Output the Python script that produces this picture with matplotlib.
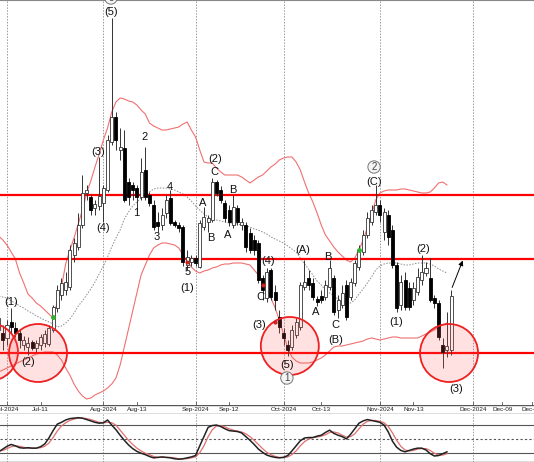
import numpy as np
import pandas as pd
import matplotlib
matplotlib.use("Agg")
import matplotlib.pyplot as plt
from matplotlib.patches import Ellipse

plt.rcParams['font.family'] = ['Liberation Sans', 'DejaVu Sans']

# ---------------- data ----------------
dates = pd.bdate_range('2024-06-27', periods=109)

opens = [170, 167, 162, 178, 172, 167, 155, 153, 158, 152, 155, 157, 156, 170, 192, 205, 210, 213, 245, 253,
         275, 307, 303, 292, 294, 297, 310, 358, 383, 350, 352, 318, 315, 312, 303, 330, 305, 295, 278, 275,
         287, 302, 278, 275, 273, 235, 238, 242, 233, 273, 278, 280, 318, 310, 297, 290, 275, 292, 275, 275,
         267, 260, 257, 222, 202, 230, 208, 183, 167, 155, 153, 165, 173, 213, 222, 217, 201, 204, 203, 213,
         222, 190, 195, 215, 203, 217, 233, 248, 265, 278, 288, 295, 268, 285, 270, 235, 195, 220, 212, 200,
         208, 220, 227, 222, 202, 197, 155, 150, 150]
highs = [188, 175, 180, 192, 178, 170, 164, 163, 160, 160, 166, 170, 175, 195, 215, 222, 228, 255, 262, 287,
         325, 315, 305, 300, 343, 315, 365, 482, 388, 372, 370, 322, 318, 315, 342, 353, 308, 300, 288, 292,
         305, 310, 280, 278, 275, 250, 245, 245, 280, 293, 285, 322, 320, 314, 300, 295, 305, 295, 282, 278,
         272, 265, 260, 225, 232, 232, 215, 190, 172, 160, 175, 182, 218, 240, 230, 222, 204, 210, 220, 240,
         225, 205, 215, 220, 222, 240, 255, 270, 288, 295, 315, 300, 292, 290, 275, 238, 225, 228, 218, 218,
         232, 245, 238, 242, 205, 200, 162, 188, 210]
lows = [160, 150, 155, 167, 163, 152, 150, 145, 150, 148, 150, 153, 154, 168, 188, 200, 205, 210, 238, 250,
        272, 300, 285, 285, 290, 278, 308, 355, 350, 340, 298, 295, 300, 290, 300, 300, 294, 270, 268, 270,
        282, 275, 273, 268, 234, 230, 234, 234, 232, 270, 268, 278, 304, 297, 278, 274, 272, 275, 270, 248,
        247, 245, 217, 200, 198, 200, 190, 167, 155, 144, 150, 162, 170, 210, 210, 200, 194, 197, 200, 210,
        185, 182, 192, 180, 200, 214, 230, 245, 262, 275, 285, 278, 260, 255, 232, 188, 190, 190, 190, 195,
        205, 215, 224, 198, 192, 160, 132, 143, 145]
closes = [182, 160, 175, 173, 167, 160, 160, 157, 152, 157, 163, 166, 172, 193, 210, 217, 218, 250, 257, 275,
          307, 310, 290, 296, 304, 312, 360, 383, 360, 353, 300, 303, 310, 303, 328, 303, 297, 273, 274, 285,
          300, 277, 275, 272, 238, 243, 242, 237, 277, 283, 282, 318, 307, 300, 282, 278, 293, 278, 278, 253,
          250, 250, 220, 210, 228, 203, 200, 173, 162, 150, 170, 178, 215, 218, 215, 203, 198, 200, 215, 232,
          188, 200, 207, 183, 218, 237, 250, 265, 282, 290, 295, 285, 288, 263, 235, 192, 218, 193, 193, 212,
          223, 228, 232, 200, 197, 163, 148, 154, 204]

nan = np.nan
bb_upper = [264, 260, 255, 248, 241, 227, 217, 206, 202, 197, 194, 190, 186, 182, 198, 213, 236, 250, 262, 276,
            290, 307, 319, 333, 346, 360, 372, 388, 398, 402, 401, 399, 398, 395, 390, 386, 377, 374, 372, 370,
            370, 371, 372, 373, 376, 378, 370, 363, 350, 338, 337, 337, 332, 328, 325, 325, 325, 325, 323, 320,
            317, 320, 323, 325, 329, 333, 336, 340, 342, 343, 343, 338, 330, 318, 307, 298, 287, 275, 265, 259,
            253, 248, 244, 240, 238, 242, 250, 260, 272, 285, 300, 307, 309, 310, 310, 310, 311, 311, 310, 309,
            308, 307, 307, 308, 312, 317, 318, 315, nan]
bb_mid = [204, 203, 202, 199, 197, 194, 192, 189, 187, 184, 182, 180, 178, 176, 173, 174, 177, 181, 187, 194,
          199, 205, 211, 218, 226, 234, 243, 253, 262, 270, 281, 288, 294, 298, 302, 305, 308, 311, 312, 312,
          312, 311, 310, 308, 306, 303, 299, 294, 290, 286, 283, 281, 280, 279, 278, 277, 277, 276, 275, 274,
          273, 271, 270, 268, 266, 263, 261, 259, 257, 254, 251, 248, 242, 236, 231, 225, 219, 215, 210, 207,
          204, 201, 199, 198, 197, 200, 206, 211, 217, 223, 230, 234, 236, 237, 237, 237, 236, 235, 235, 236,
          237, 237, 237, 236, 234, 231, 229, 227, nan]
bb_lower = [128, 130, 132, 134, 136, 138, 140, 142, 144, 146, 147, 148, 148, 148, 145, 140, 132, 125, 116, 109,
            104, 101, 102, 105, 107, 109, 112, 116, 122, 135, 153, 171, 189, 207, 225, 235, 245, 252, 255, 257,
            257, 256, 255, 252, 245, 239, 233, 229, 227, 229, 230, 232, 233, 235, 236, 236, 237, 237, 237, 236,
            235, 230, 225, 219, 211, 202, 192, 180, 166, 152, 143, 139, 137, 137, 137, 138, 140, 142, 145, 149,
            153, 154, 154, 155, 156, 157, 158, 159, 161, 162, 161, 160, 161, 162, 163, 163, 162, 162, 162, 162,
            162, 164, 166, 168, 170, 173, 175, 177, nan]

stoch_k = [22, 28, 34, 38, 35, 31, 30, 31, 30, 30, 33, 39, 52, 68, 82, 86, 91, 94, 95, 96,
           95, 92, 89, 86, 84, 85, 91, 80, 70, 58, 47, 37, 29, 23, 19, 16, 12, 9, 10, 11,
           10, 9, 7, 6, 7, 9, 11, 14, 35, 55, 75, 79, 80, 77, 72, 68, 67, 66, 63, 55,
           47, 38, 28, 21, 15, 12, 10, 9, 10, 14, 24, 35, 46, 52, 53, 53, 56, 58, 64, 69,
           62, 58, 55, 50, 60, 72, 84, 89, 92, 90, 88, 86, 80, 65, 45, 32, 25, 22, 25, 28,
           30, 30, 26, 18, 13, 14, 18, 22, nan]
stoch_d = [24, 25, 29, 33, 35, 34, 32, 30, 30, 30, 31, 34, 41, 53, 67, 78, 85, 90, 93, 95,
           95, 94, 92, 89, 86, 85, 86, 85, 80, 69, 58, 47, 38, 30, 24, 19, 16, 12, 10, 10,
           10, 10, 9, 7, 7, 7, 9, 11, 20, 35, 55, 70, 78, 79, 76, 72, 69, 67, 65, 61,
           55, 47, 38, 29, 21, 16, 12, 10, 10, 11, 16, 24, 35, 44, 50, 53, 54, 56, 59, 64,
           65, 63, 58, 54, 55, 61, 72, 82, 88, 90, 90, 88, 85, 77, 63, 47, 34, 26, 24, 25,
           28, 29, 29, 25, 19, 15, 15, 18, nan]

levels = [305, 241, 147]

wave_text = ['(1)', '(2)', '(3)', '(4)', '(5)', '1', '2', '3', '4', '5', '(1)', 'A', 'B', 'C', '(2)',
             'A', 'B', 'C', '(3)', '(4)', '(5)', 'A', 'B', 'C', '(B)', '(C)', '(1)', '(2)', '(3)', '(A)']
wave_bar = [1, 5, 21.7, 23, 24.8, 30.8, 32.8, 35.8, 38.8, 43, 43, 46.8, 48.7, 49.6, 49.7,
            52.7, 53.9, 60.4, 60.1, 62.3, 66.8, 73.7, 76.6, 78.5, 78.5, 87.6, 92.8, 99.3, 107.2, 70.6]
wave_price = [198, 138, 348, 272, 488, 287, 363, 263, 313, 228, 212, 297, 262, 328, 341,
              265, 310, 203, 175, 239, 135, 188, 243, 175, 160, 318, 178, 251, 111, 250]

circled_text = ['5', '1', '2']
circled_bar = [24.8, 66.8, 87.6]
circled_price = [502, 122, 333]

zone_bar = [-4.3, 7.4, 67.5, 105.5]
zone_price = [148, 147, 154, 147]

tick_labels = ['Jul-2024', 'Jul-11', 'Aug-2024', 'Aug-13', 'Sep-2024', 'Sep-12', 'Oct-2024',
               'Oct-13', 'Nov-2024', 'Nov-13', 'Dec-2024', 'Dec-09', 'Dec-16']
tick_dates = ['2024-07-01', '2024-07-11', '2024-08-01', '2024-08-13', '2024-09-02', '2024-09-12',
              '2024-10-01', '2024-10-13', '2024-11-01', '2024-11-13', '2024-12-02', '2024-12-09', '2024-12-16']
month_dates = ['2024-07-01', '2024-08-01', '2024-09-02', '2024-10-01', '2024-11-01', '2024-12-02']

# ---------------- layout ----------------
W, H = 534, 462
fig = plt.figure(figsize=(W / 100, H / 100), dpi=100)
main_bottom = (H - 405) / H
ax = fig.add_axes([0, main_bottom, 1, 405 / H])
axd = fig.add_axes([0, (H - 414) / H, 1, 9 / H])
axs = fig.add_axes([0, 0, 1, (H - 414) / H])

x = np.busday_count(np.datetime64('2024-07-01'), dates.values.astype('datetime64[D]')).astype(float)
o, h, l, c = map(np.array, (opens, highs, lows, closes))
last_day = dates[-1]


def bpos(ds):
    out = []
    for d in pd.to_datetime(ds):
        if d <= last_day:
            out.append(float(np.busday_count(np.datetime64('2024-07-01'), np.datetime64(d.date()))))
        else:
            # future area: one slot per calendar day past the last bar
            out.append(x[-1] + (d - last_day).days - 0.8)
    return np.array(out)


xmin, xmax = -7 / 4.19, (W - 7) / 4.19
for a in (ax, axd, axs):
    a.set_xlim(xmin, xmax)
    a.set_xticks([])
    a.set_yticks([])
    for s in a.spines.values():
        s.set_visible(False)

ax.set_ylim(95, 500)
ax.spines['top'].set_visible(True)
ax.spines['top'].set_color('#888888')
ax.spines['top'].set_linewidth(1.5)

# month gridlines
mpos = bpos(month_dates)
for a in (ax, axs):
    for mp in mpos:
        a.axvline(mp, color='#9a9a9a', lw=0.7, ls=(0, (1.5, 1.5)), zorder=0)

# bollinger
ax.plot(x, bb_upper, color='#f07070', lw=0.8, zorder=2)
ax.plot(x, bb_lower, color='#f07070', lw=0.8, zorder=2)
ax.plot(x, bb_mid, color='#8a8a8a', lw=0.7, ls=(0, (1.5, 1.5)), zorder=2)

# horizontal levels
for lv in levels:
    ax.axhline(lv, color='#ff0000', lw=1.6, zorder=3)

# candles
up = c >= o
ax.vlines(x, l, h, color='#333333', lw=0.7, zorder=4)
body_b = np.minimum(o, c)
body_h = np.maximum(np.abs(c - o), 1.2)
ax.bar(x[up], body_h[up], bottom=body_b[up], width=0.72, color='white', edgecolor='#333333', lw=0.6, zorder=5)
ax.bar(x[~up], body_h[~up], bottom=body_b[~up], width=0.72, color='black', edgecolor='black', lw=0.6, zorder=5)

# zones
for zb, zp in zip(zone_bar, zone_price):
    ax.add_patch(Ellipse((zb, zp), width=2 * 29 / 4.19, height=58, facecolor=(1, 0.35, 0.35, 0.18),
                         edgecolor='#ee2020', lw=1.3, zorder=6))

# small markers
ax.plot([x[13]], [183], marker='o', ms=2.5, color='#30b030', zorder=7)
ax.plot([x[86]], [250], marker='o', ms=2.5, color='#30b030', zorder=7)
ax.plot([x[45], x[66], x[63]], [238, 178, 215], ls='none', marker='o', ms=2, color='#d02020', zorder=7)

# arrow from last candle
ax.annotate('', xy=(x[-1] + 3.0, 242), xytext=(x[-1], h[-1]),
            arrowprops=dict(arrowstyle='-|>', color='black', lw=0.7, mutation_scale=7), zorder=8)

# wave labels
for t, b, p in zip(wave_text, wave_bar, wave_price):
    ax.text(b, p, t, ha='center', va='center', fontsize=8, color='#111111', zorder=9)
for t, b, p in zip(circled_text, circled_bar, circled_price):
    ax.text(b, p, t, ha='center', va='center', fontsize=7, color='#444444', zorder=9,
            bbox=dict(boxstyle='circle,pad=0.12', fc='#f4f4f4', ec='#777777', lw=0.7))

# date strip
axd.set_ylim(0, 1)
axd.axhline(1, color='#555555', lw=1.0)
axd.axhline(0, color='#555555', lw=1.0)
tpos = bpos(tick_dates)
for tp, tl in zip(tpos, tick_labels):
    axd.text(tp, 0.45, tl, ha='center', va='center', fontsize=4.6, color='#222222')
    axd.plot([tp, tp], [1.0, 1.35], color='#555555', lw=0.6, clip_on=False)

# stochastic
axs.set_ylim(0, 104)
for lv, ls in ((80, '-'), (20, '-'), (50, (0, (2, 2)))):
    axs.axhline(lv, color='#555555', lw=0.8, ls=ls, zorder=1)
axs.axhline(0.5, color='#555555', lw=1.0, zorder=1)
axs.plot(x, stoch_d, color='#e07070', lw=0.9, zorder=3)
axs.plot(x, stoch_k, color='#222222', lw=1.1, zorder=4)

fig.savefig('out.png', dpi=100)
